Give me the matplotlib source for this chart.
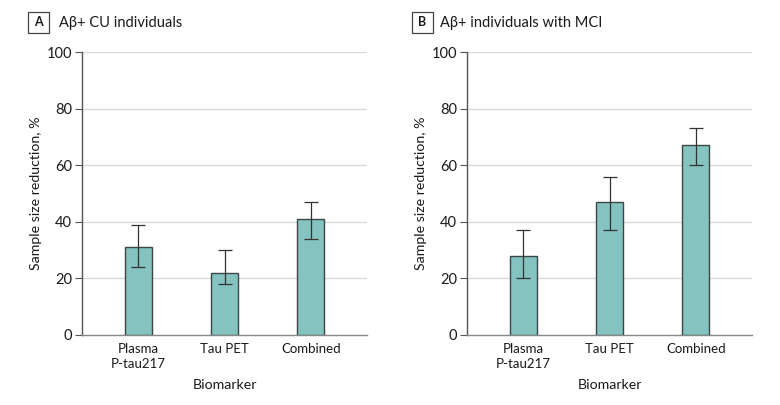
import matplotlib.pyplot as plt
from matplotlib.patches import Rectangle
import numpy as np

# Data
biomarkers = ["Plasma\nP-tau217", "Tau PET", "Combined"]
cu_values = [31, 22, 41]
cu_lower = [24, 18, 34]
cu_upper = [39, 30, 47]
mci_values = [28, 47, 67]
mci_lower = [20, 37, 60]
mci_upper = [37, 56, 73]
panel_titles = ["A\u03b2+ CU individuals", "A\u03b2+ individuals with MCI"]
panel_letters = ["A", "B"]

plt.rcParams['font.family'] = ['Lato', 'DejaVu Sans']

bar_color = "#84c3bf"
edge_color = "#3b4747"
grid_color = "#d9d9d9"
text_color = "#1a1a1a"

W, H = 780, 405
fig = plt.figure(figsize=(7.8, 4.05), dpi=100)
ax_a = fig.add_axes([82 / W, 1 - 335 / H, 285 / W, 283 / H])
ax_b = fig.add_axes([467 / W, 1 - 335 / H, 285 / W, 283 / H])

panels = [
    (ax_a, cu_values, cu_lower, cu_upper),
    (ax_b, mci_values, mci_lower, mci_upper),
]

for i, (ax, vals, lo, hi) in enumerate(panels):
    x = np.arange(len(biomarkers))
    vals = np.array(vals)
    yerr = [vals - np.array(lo), np.array(hi) - vals]
    ax.bar(x, vals, width=0.31, color=bar_color, edgecolor=edge_color,
           linewidth=1.0, zorder=3)
    ax.errorbar(x, vals, yerr=yerr, fmt="none", ecolor="#333333",
                elinewidth=0.9, capsize=5, capthick=0.9, zorder=4)

    ax.set_xlim(-0.65, 2.65)
    ax.set_ylim(0, 100)
    ax.set_yticks([0, 20, 40, 60, 80, 100])
    ax.set_xticks(x)
    ax.set_xticklabels(biomarkers, fontsize=9.5, color=text_color, linespacing=1.3)
    ax.tick_params(axis="x", length=0, pad=6)
    ax.tick_params(axis="y", length=5, width=0.8, color="#555555",
                   labelsize=10.5, labelcolor=text_color, pad=2)
    for y in [20, 40, 60, 80, 100]:
        ax.axhline(y, color=grid_color, linewidth=1.0, zorder=1)
    for side in ["top", "right"]:
        ax.spines[side].set_visible(False)
    ax.spines["left"].set_color("#555555")
    ax.spines["left"].set_linewidth(1.0)
    ax.spines["bottom"].set_color("#888888")
    ax.spines["bottom"].set_linewidth(1.0)
    ax.set_ylabel("Sample size reduction, %", fontsize=10.2, color=text_color)
    ax.yaxis.set_label_coords(-40 / 285, 0.5)
    ax.set_xlabel("Biomarker", fontsize=10.2, color=text_color, labelpad=6)

# Panel letters in boxes and titles
box_left = [28, 412]
title_left = [59, 440]
for i in range(2):
    fig.patches.append(Rectangle((box_left[i] / W, 1 - 33 / H), 21 / W, 21 / H,
                                 transform=fig.transFigure, fc="white",
                                 ec="#444444", lw=0.9))
    fig.text((box_left[i] + 10.5) / W, 1 - 22.5 / H, panel_letters[i], fontsize=9,
             fontweight="bold", ha="center", va="center", color=text_color)
    fig.text(title_left[i] / W, 1 - 23.5 / H, panel_titles[i], fontsize=10.5,
             ha="left", va="center", color=text_color)

fig.savefig("out.png", dpi=100)
